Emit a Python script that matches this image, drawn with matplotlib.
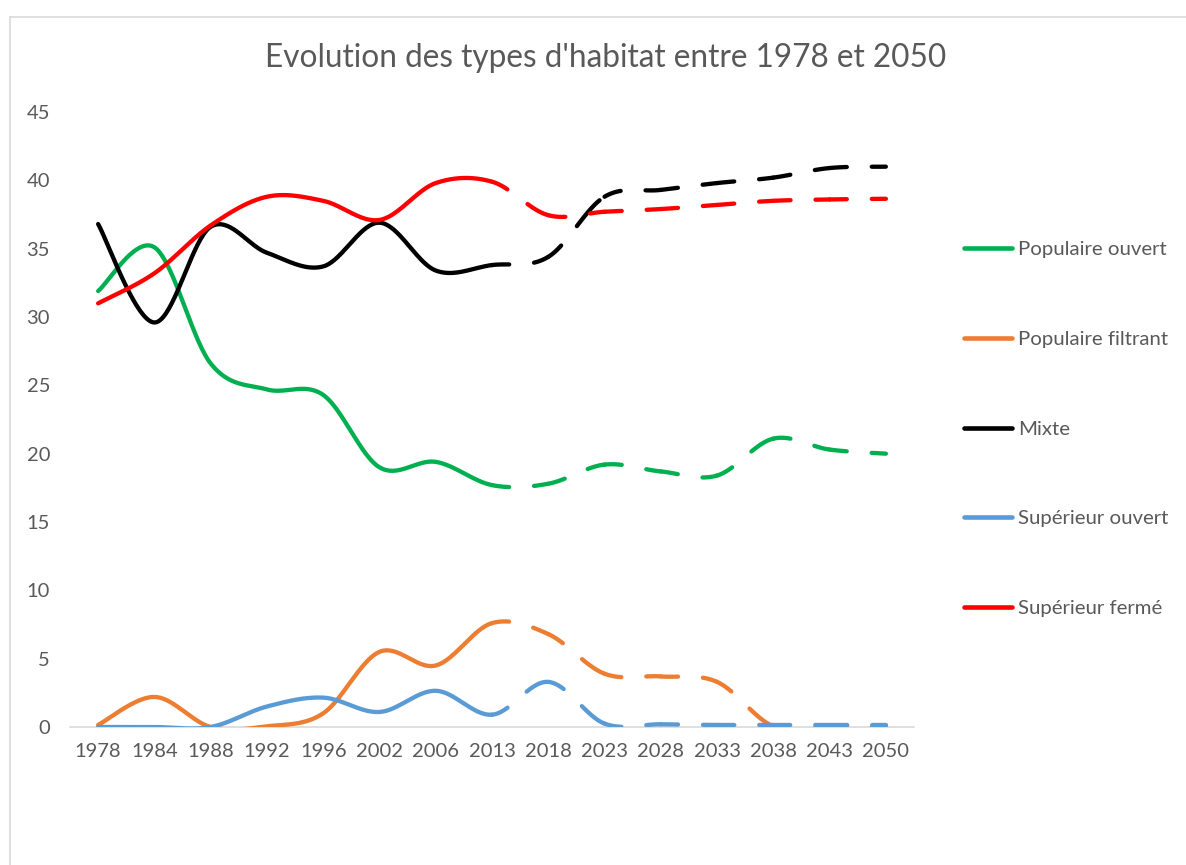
import matplotlib.pyplot as plt
from matplotlib.lines import Line2D
import numpy as np

years = ['1978', '1984', '1988', '1992', '1996', '2002', '2006', '2013',
         '2018', '2023', '2028', '2033', '2038', '2043', '2050']
pop_ouvert = [31.9, 35.1, 26.6, 24.7, 24.3, 19.0, 19.4, 17.7, 17.8, 19.2, 18.7, 18.4, 21.1, 20.3, 20.0]
pop_filtrant = [0.15, 2.2, 0.0, 0.05, 1.0, 5.5, 4.5, 7.6, 6.8, 3.9, 3.7, 3.3, 0.05, 0.0, 0.0]
mixte = [36.8, 29.6, 36.6, 34.7, 33.7, 36.9, 33.4, 33.8, 34.4, 38.8, 39.3, 39.8, 40.2, 40.9, 41.0]
sup_ouvert = [0.0, 0.0, 0.0, 1.5, 2.15, 1.1, 2.65, 0.9, 3.3, 0.25, 0.2, 0.15, 0.15, 0.15, 0.15]
sup_ferme = [31.0, 33.2, 36.7, 38.8, 38.5, 37.1, 39.8, 39.9, 37.45, 37.7, 37.9, 38.2, 38.5, 38.6, 38.65]

labels = ['Populaire ouvert', 'Populaire filtrant', 'Mixte', 'Supérieur ouvert', 'Supérieur fermé']
colors = ['#00B050', '#ED7D31', '#000000', '#5B9BD5', '#FF0000']
series = [pop_ouvert, pop_filtrant, mixte, sup_ouvert, sup_ferme]
# order in which Excel draws them (red on top of black)
draw_order = [0, 1, 3, 2, 4]
last_actual = 7  # 2013: later points are projections (dashed)

GREY = '#595959'
FONT = 'Lato'
LW = 3.1


def seg_curve(vals, i, n=40):
    """Excel-like smoothed bezier between point i and i+1."""
    y = np.asarray(vals, float)
    x = np.arange(len(y), dtype=float)
    N = len(y)
    j0 = max(i - 1, 0)
    j3 = min(i + 2, N - 1)
    px = [x[i], x[i] + (x[i + 1] - x[j0]) / 6, x[i + 1] - (x[j3] - x[i]) / 6, x[i + 1]]
    py = [y[i], y[i] + (y[i + 1] - y[j0]) / 6, y[i + 1] - (y[j3] - y[i]) / 6, y[i + 1]]
    t = np.linspace(0, 1, n)
    b = [(1 - t) ** 3, 3 * t * (1 - t) ** 2, 3 * t ** 2 * (1 - t), t ** 3]
    cx = sum(bk * pk for bk, pk in zip(b, px))
    cy = sum(bk * pk for bk, pk in zip(b, py))
    return cx, cy


W, H = 1186, 865
fig = plt.figure(figsize=(W / 100, H / 100), dpi=100)
ax = fig.add_axes([70 / W, 1 - 727 / H, 844 / W, 615 / H])

for k in draw_order:
    vals, col = series[k], colors[k]
    xs, ys = [], []
    for i in range(last_actual):
        cx, cy = seg_curve(vals, i)
        xs.append(cx)
        ys.append(cy)
    ax.plot(np.concatenate(xs), np.concatenate(ys), color=col, lw=LW,
            solid_capstyle='round', solid_joinstyle='round')
    for i in range(last_actual, len(vals) - 1):
        cx, cy = seg_curve(vals, i)
        ax.plot(cx, cy, color=col, lw=LW, linestyle=(4.0, (8.0, 5.8)),
                dash_capstyle='round')

ax.set_xlim(-0.5, len(years) - 0.5)
ax.set_ylim(0, 45)
ax.set_xticks(range(len(years)))
ax.set_xticklabels(years)
ax.set_yticks(range(0, 46, 5))
for s in ['top', 'right', 'left']:
    ax.spines[s].set_visible(False)
ax.spines['bottom'].set_color('#D9D9D9')
ax.spines['bottom'].set_linewidth(1.2)
ax.spines['bottom'].set_zorder(1)
ax.tick_params(axis='both', length=0, labelcolor=GREY, labelsize=14.5)
ax.tick_params(axis='y', pad=14.4)
ax.tick_params(axis='x', pad=11.5)
for lab in ax.get_xticklabels() + ax.get_yticklabels():
    lab.set_fontfamily(FONT)

fig.text(606 / W, 1 - 67 / H, "Evolution des types d'habitat entre 1978 et 2050",
         ha='center', va='baseline', fontsize=22.7, color=GREY, fontfamily=FONT)

# legend on the right
for i, (lab, col) in enumerate(zip(labels, colors)):
    yy = 248 + 89.8 * i
    fig.add_artist(Line2D([964 / W, 1012 / W], [1 - yy / H, 1 - yy / H],
                          transform=fig.transFigure, color=col, lw=3.3,
                          solid_capstyle='round'))
    fig.text(1018 / W, 1 - (yy + 7) / H, lab, ha='left', va='baseline',
             fontsize=14.7, color=GREY, fontfamily=FONT)

# chart area border (partly visible)
fig.add_artist(Line2D([10 / W, 10 / W], [0, 1 - 17 / H], transform=fig.transFigure,
                      color='#D9D9D9', lw=1.2))
fig.add_artist(Line2D([10 / W, 1], [1 - 17 / H, 1 - 17 / H], transform=fig.transFigure,
                      color='#D9D9D9', lw=1.2))

fig.savefig('out.png', dpi=100, facecolor='white')
